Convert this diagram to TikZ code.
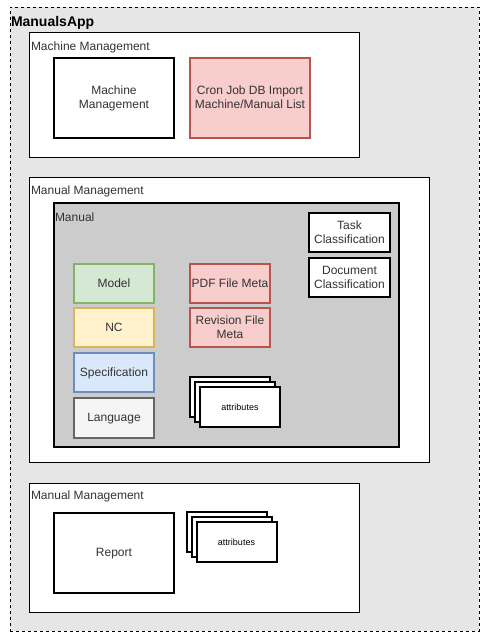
\documentclass[tikz,border=0pt]{standalone}
\usepackage{fontspec}
\setmainfont{Liberation Sans}
\begin{document}
\begin{tikzpicture}[x=1pt,y=-1pt,
  every node/.style={inner sep=0pt, outer sep=0pt},
  group/.style={draw=black, line width=1pt, fill=white, rectangle},
  blk/.style={draw=black, line width=2pt, fill=white, rectangle, align=center, text depth=0pt, font=\fontsize{12}{14}\selectfont, text=black!80},
  redb/.style={blk, draw=red4, fill=red1},
  greenb/.style={blk, draw=green4, fill=green1},
  yellowb/.style={blk, draw=yellow4, fill=yellow1},
  blueb/.style={blk, draw=blue4, fill=blue1},
  grayb/.style={blk, draw=gray4, fill=gray1, text=gray5},
  lbl/.style={anchor=west, font=\fontsize{12}{14}\selectfont, text=black!80},
  attr/.style={draw=black, line width=2pt, fill=white, rectangle, text depth=0pt, minimum width=80pt, minimum height=40pt, font=\fontsize{9}{11}\selectfont}
]
\definecolor{red1}{HTML}{F8CECC}\definecolor{red4}{HTML}{B85450}
\definecolor{green1}{HTML}{D5E8D4}\definecolor{green4}{HTML}{82B366}
\definecolor{yellow1}{HTML}{FFF2CC}\definecolor{yellow4}{HTML}{D6B656}
\definecolor{blue1}{HTML}{DAE8FC}\definecolor{blue4}{HTML}{6C8EBF}
\definecolor{gray1}{HTML}{F5F5F5}\definecolor{gray4}{HTML}{666666}\definecolor{gray5}{HTML}{333333}
\definecolor{appbg}{HTML}{E6E6E6}\definecolor{manbg}{HTML}{CCCCCC}
\useasboundingbox (0,0) rectangle (490,641);
\fill[white] (0,0) rectangle (490,641);
% outer app
\node[draw=black, dashed, line width=0.8pt, fill=appbg, minimum width=469pt, minimum height=624pt] (app) at (244.5,319) {};
\node[anchor=west, font=\bfseries\fontsize{14}{16}\selectfont] (applbl) at (11,22.5) {ManualsApp};
% machine management group
\node[group, minimum width=330pt, minimum height=125pt] (mm) at (194,94.5) {};
\node[lbl] (mmlbl) at (31,47) {Machine Management};
\node[blk, minimum width=120pt, minimum height=80pt] (mmbox) at (114,97.5) {Machine\\Management};
\node[redb, minimum width=120pt, minimum height=80pt] (cron) at (250,97.5) {Cron Job DB Import\\Machine/Manual List};
% manual management group
\node[group, minimum width=400pt, minimum height=285pt] (man) at (229,319.5) {};
\node[lbl] (manlbl) at (31,191) {Manual Management};
\node[blk, fill=manbg, minimum width=345pt, minimum height=244pt] (manual) at (226.5,325) {};
\node[lbl] (manuallbl) at (55,217) {Manual};
\node[blk, minimum width=81pt, minimum height=39pt] (task) at (349.5,232) {Task\\Classification};
\node[blk, minimum width=81pt, minimum height=39pt] (doc) at (349.5,277) {Document\\Classification};
\node[greenb, minimum width=80pt, minimum height=39pt] (model) at (114,283) {Model};
\node[yellowb, minimum width=80pt, minimum height=39pt] (nc) at (114,327) {NC};
\node[blueb, minimum width=80pt, minimum height=39pt] (spec) at (114,372) {Specification};
\node[grayb, minimum width=80pt, minimum height=40pt] (lang) at (114,417.5) {Language};
\node[redb, minimum width=80pt, minimum height=39pt] (pdf) at (230,283) {PDF File Meta};
\node[redb, minimum width=80pt, minimum height=39pt] (rev) at (230,327) {Revision File\\Meta};
\node[attr] (attrA1) at (230,397) {};
\node[attr] (attrA2) at (235,402) {};
\node[attr] (attrA3) at (240,407) {attributes};
% report group
\node[group, minimum width=330pt, minimum height=129pt] (rep) at (194,547.5) {};
\node[lbl] (replbl) at (31,496) {Manual Management};
\node[blk, minimum width=120pt, minimum height=80pt] (report) at (114,552.5) {Report};
\node[attr] (attrB1) at (226.5,532) {};
\node[attr] (attrB2) at (231.5,537) {};
\node[attr] (attrB3) at (236.5,542) {attributes};
\end{tikzpicture}
\end{document}
